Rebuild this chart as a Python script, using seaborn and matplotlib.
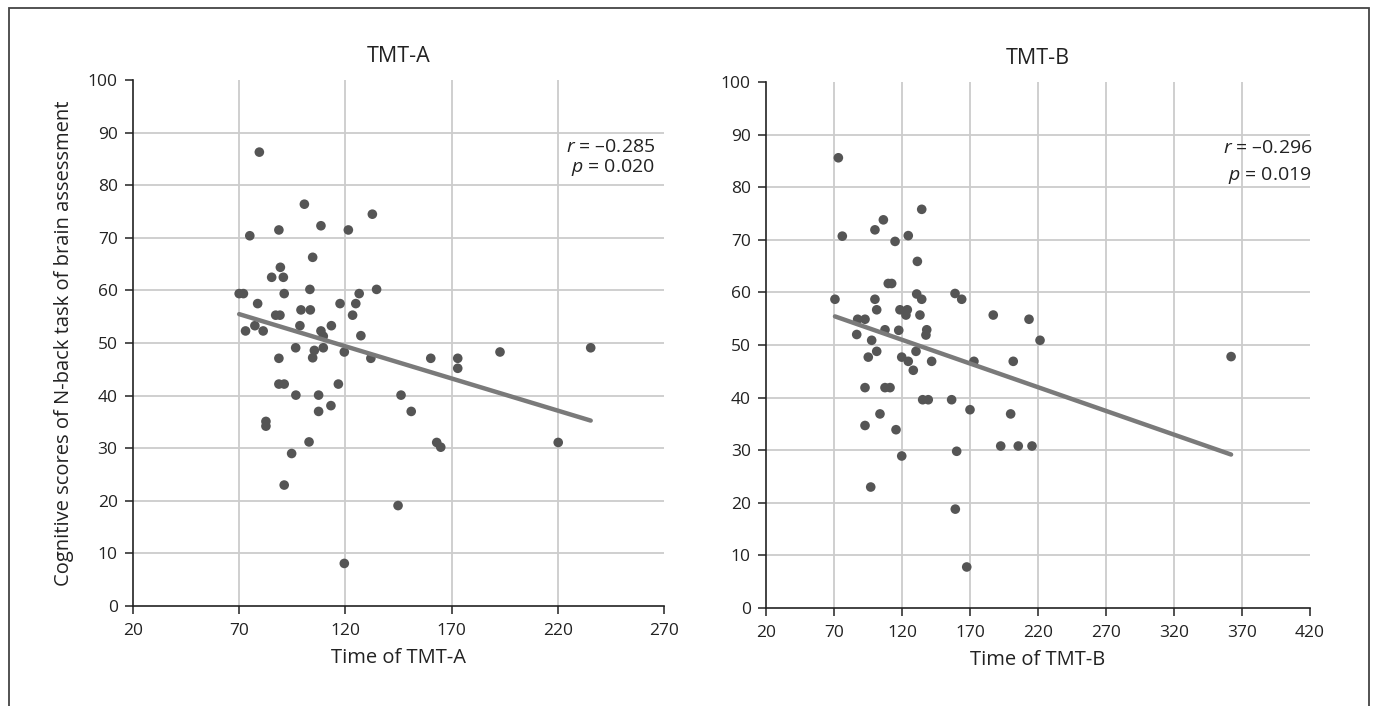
import numpy as np
import pandas as pd
import seaborn as sns
import matplotlib.pyplot as plt
from matplotlib.patches import Rectangle

# TMT-A: time (s) vs N-back score
tmt_a_time = [70, 72, 73, 75, 77.4, 78.7, 79.5, 81.3, 82.6, 82.6, 85.3, 87.2, 88.7, 89.4,
              88.7, 88.7, 89.2, 90.8, 91.2, 91.2, 91.2, 94.7, 96.6, 96.7, 98.6, 99.1,
              100.7, 102.9, 103.3, 103.5, 104.6, 104.6, 105.4, 107.4, 107.4, 108.5, 108.5,
              109.6, 109.6, 113.2, 113.4, 116.7, 117.5, 119.5, 119.5, 121.4, 123.4, 124.9,
              126.5, 127.3, 132, 132.7, 134.7, 144.8, 146.2, 151, 160.2, 163, 164.9,
              172.9, 172.9, 192.8, 220.2, 235.5]
tmt_a_score = [59.4, 59.4, 52.3, 70.4, 53.3, 57.5, 86.3, 52.3, 35.1, 34.2, 62.5, 55.3, 71.5, 64.4,
               47.1, 42.2, 55.3, 62.5, 59.4, 42.2, 23.0, 29.0, 49.1, 40.1, 53.3, 56.3,
               76.4, 31.2, 60.2, 56.3, 66.3, 47.2, 48.6, 40.1, 37.0, 72.3, 52.3,
               51.3, 49.1, 38.1, 53.3, 42.2, 57.5, 48.3, 8.1, 71.5, 55.3, 57.5,
               59.4, 51.4, 47.1, 74.5, 60.2, 19.1, 40.1, 37.0, 47.1, 31.1, 30.2,
               47.1, 45.2, 48.3, 31.1, 49.1]

# TMT-B: time (s) vs N-back score
tmt_b_time = [73.2, 134.5, 106.3, 100.1, 76.1, 124.6, 114.9, 131.3, 109.9, 112.4, 70.7, 100.1,
              130.8, 134.5, 159, 163.9, 101.4, 118.5, 123.9, 122.9, 133.2, 187.1, 213.4,
              87.4, 92.8, 107.5, 117.6, 86.7, 138.2, 137.6, 221.5, 97.7, 101.4, 95.2,
              130.3, 119.8, 124.6, 141.8, 172.9, 201.8, 128.3, 92.8, 107.5, 111.2, 135.2,
              139.3, 156.5, 170, 199.9, 103.8, 92.8, 115.6, 192.6, 205.5, 215.6, 160.2,
              119.8, 97, 159.2, 167.6, 362]
tmt_b_score = [85.6, 75.8, 73.8, 71.9, 70.7, 70.8, 69.7, 65.9, 61.7, 61.7, 58.7, 58.7,
               59.7, 58.7, 59.8, 58.7, 56.7, 56.7, 56.7, 55.7, 55.7, 55.7, 54.9,
               54.9, 54.9, 52.9, 52.8, 52.0, 52.9, 51.9, 50.9, 50.9, 48.8, 47.7,
               48.8, 47.7, 46.9, 46.9, 46.9, 46.9, 45.2, 41.9, 41.9, 41.9, 39.6,
               39.6, 39.6, 37.7, 36.9, 36.9, 34.7, 33.9, 30.8, 30.8, 30.8, 29.8,
               28.9, 23.0, 18.8, 7.8, 47.8]

panels = [
    ("TMT-A", "Time of TMT-A", tmt_a_time, tmt_a_score, np.arange(20, 271, 50), "\u20130.285", "0.020"),
    ("TMT-B", "Time of TMT-B", tmt_b_time, tmt_b_score, np.arange(20, 421, 50), "\u20130.296", "0.019"),
]

sns.set_style("white")
plt.rcParams['font.family'] = ['Open Sans', 'DejaVu Sans']
plt.rcParams['mathtext.fontset'] = 'custom'
plt.rcParams['mathtext.rm'] = 'Open Sans'
plt.rcParams['mathtext.it'] = 'Open Sans:italic'
plt.rcParams['text.color'] = '#222222'
plt.rcParams['axes.labelcolor'] = '#222222'
plt.rcParams['xtick.color'] = '#222222'
plt.rcParams['ytick.color'] = '#222222'

fig = plt.figure(figsize=(13.75, 7.06), dpi=100)
boxes = [[0.0967, 0.1416, 0.3862, 0.745], [0.5571, 0.1388, 0.3956, 0.745]]
ann_pos = [(0.983, 0.873, 0.833), (1.004, 0.875, 0.823)]

for i, (title, xlab, xs, ys, xt, rval, pval) in enumerate(panels):
    ax = fig.add_axes(boxes[i])
    df = pd.DataFrame({"time": xs, "score": ys})
    sns.regplot(data=df, x="time", y="score", ax=ax, ci=None,
                scatter_kws=dict(s=48, color='#555555', edgecolor='none', alpha=1, zorder=3),
                line_kws=dict(color='#7a7a7a', lw=3.2, zorder=4))
    ax.set_xlim(xt[0], xt[-1])
    ax.set_ylim(0, 100)
    ax.set_xticks(xt)
    ax.set_yticks(np.arange(0, 101, 10))
    ax.grid(True, color='#cccccc', lw=1.3)
    ax.set_axisbelow(True)
    ax.xaxis.get_gridlines()[0].set_visible(False)
    ax.xaxis.get_gridlines()[-1].set_visible(False)
    ax.yaxis.get_gridlines()[0].set_visible(False)
    ax.yaxis.get_gridlines()[-1].set_visible(False)
    for s in ['top', 'right']:
        ax.spines[s].set_visible(False)
    for s in ['left', 'bottom']:
        ax.spines[s].set_color('#222222')
        ax.spines[s].set_linewidth(1.2)
    ax.tick_params(axis='both', direction='out', length=6, width=1.1, labelsize=12.5,
                   bottom=True, left=True)
    ax.tick_params(axis='x', pad=6)
    ax.tick_params(axis='y', pad=5)
    ax.set_title(title, fontsize=15.5, pad=13)
    ax.set_xlabel(xlab, fontsize=14.5, labelpad=7)
    if i == 0:
        ax.set_ylabel("Cognitive scores of N-back task of brain assessment", fontsize=14.5, labelpad=10)
    else:
        ax.set_ylabel("")
    xa, yr, yp = ann_pos[i]
    ax.text(xa, yr, "$r$ = " + rval, transform=ax.transAxes, ha='right', va='center', fontsize=14)
    ax.text(xa, yp, "$p$ = " + pval, transform=ax.transAxes, ha='right', va='center', fontsize=14)

# outer frame (open at the bottom)
fig.add_artist(Rectangle((9 / 1375, -0.05), (1369 - 9) / 1375, (706 - 8) / 706 + 0.05,
                         transform=fig.transFigure, fill=False, edgecolor='#444444', lw=1.3))

fig.savefig("out.png", dpi=100)
